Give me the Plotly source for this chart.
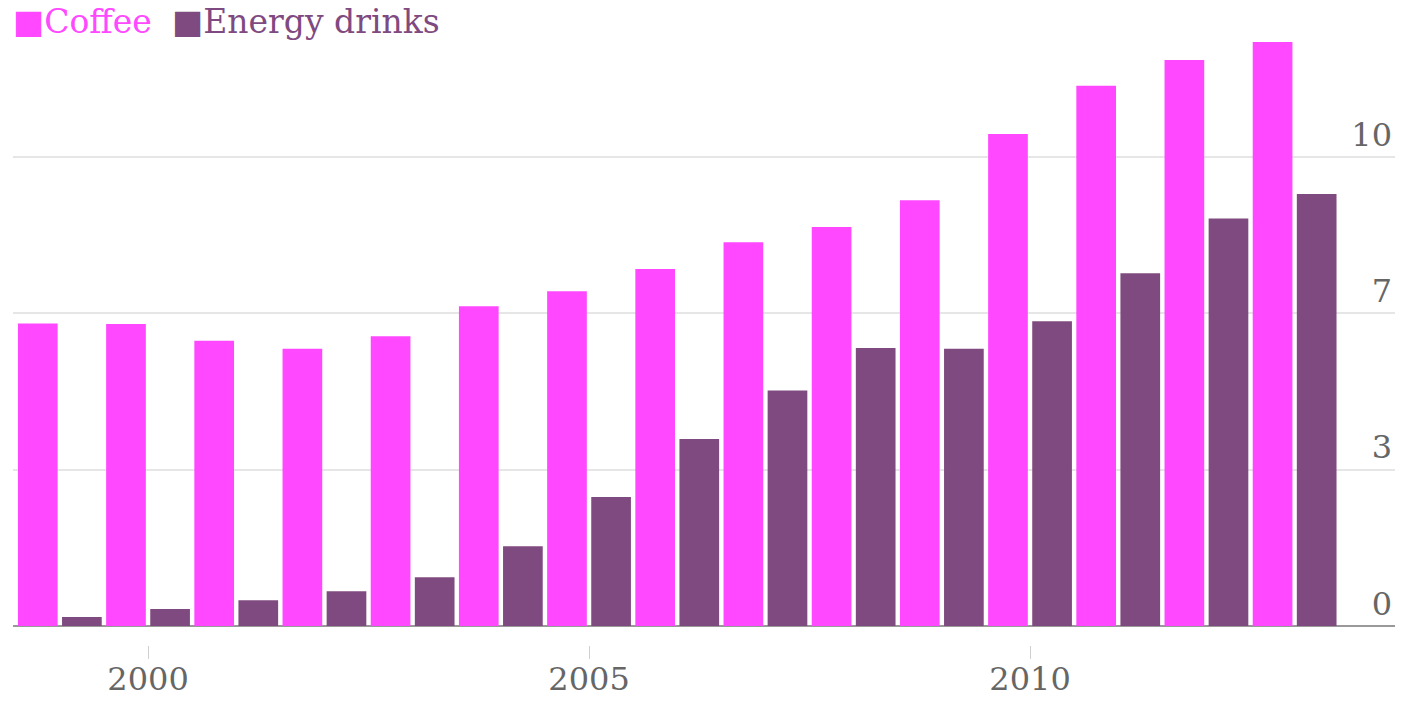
import plotly.graph_objects as go

years = list(range(1999, 2014))
coffee = [6.45, 6.44, 6.08, 5.91, 6.18, 6.82, 7.14, 7.61, 8.18, 8.51, 9.08, 10.49, 11.52, 12.07, 12.45]
energy = [0.19, 0.36, 0.55, 0.74, 1.04, 1.70, 2.75, 3.99, 5.02, 5.93, 5.91, 6.50, 7.52, 8.69, 9.21]

series_names = ["Coffee", "Energy drinks"]
series_colors = ["#ff48ff", "#7f4a7f"]

x_tickvals = [2000, 2005, 2010]
x_ticktext = ["2000", "2005", "2010"]
y_tickvals = [0, 10 / 3, 20 / 3, 10, 40 / 3]
y_ticktext = ["0", "3", "7", "10", ""]

FONT = "DejaVu Serif"

fig = go.Figure()
fig.add_trace(go.Bar(x=years, y=coffee, name=series_names[0],
                     marker=dict(color=series_colors[0], line=dict(width=0)),
                     showlegend=False))
fig.add_trace(go.Bar(x=years, y=energy, name=series_names[1],
                     marker=dict(color=series_colors[1], line=dict(width=0)),
                     showlegend=False))

W, H = 1405, 701
ml, mr, mt, mb = 13, 10, 0, 56

fig.update_layout(
    width=W, height=H,
    margin=dict(l=ml, r=mr, t=mt, b=mb, autoexpand=False),
    paper_bgcolor="white", plot_bgcolor="white",
    barmode="group", bargap=0, bargroupgap=0.1,
    font=dict(family=FONT, color="#666666", size=33),
    xaxis=dict(
        range=[1998.469, 2014.138],
        tickvals=x_tickvals, ticktext=x_ticktext,
        ticks="outside", ticklen=13, tickwidth=1, tickcolor="#d0d0d0",
        ticklabelstandoff=-7,
        showgrid=False, showline=False, zeroline=False,
        tickfont=dict(family=FONT, size=32, color="#666666"),
        automargin=False,
    ),
    yaxis=dict(
        range=[-0.405, 13.348],
        side="right",
        tickvals=y_tickvals, ticktext=y_ticktext,
        ticklabelposition="inside top",
        ticks="", showline=False,
        showgrid=True, gridcolor="#e6e6e6", gridwidth=2,
        zeroline=True, zerolinecolor="#999999", zerolinewidth=2,
        tickfont=dict(family=FONT, size=32, color="#666666"),
        automargin=False,
    ),
)

pw = W - ml - mr
legend_x_px = [13, 172]
for name, color, xp in zip(series_names, series_colors, legend_x_px):
    fig.add_annotation(
        text="\u25A0" + name,
        xref="paper", yref="paper",
        x=(xp - ml) / pw, y=1.0,
        xanchor="left", yanchor="top",
        showarrow=False,
        font=dict(family=FONT, size=33, color=color),
        xshift=-2, yshift=0,
    )

fig.write_html(
    "out.html",
    config={"displayModeBar": False},
    post_script="document.body.style.margin='0';document.body.style.overflow='hidden';",
)
